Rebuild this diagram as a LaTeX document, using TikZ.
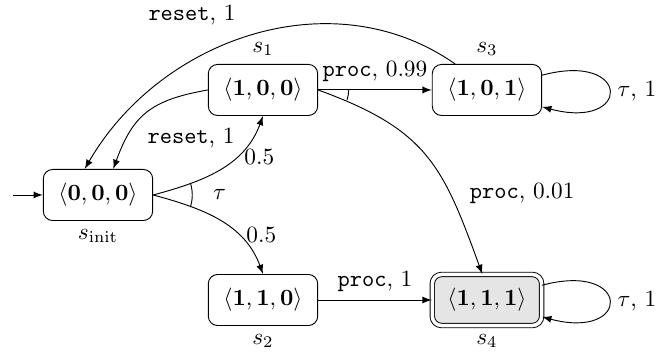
\documentclass[tikz,border=0pt]{standalone}
\usepackage{amsmath}
\usetikzlibrary{
arrows,
positioning
}
\tikzset{>=latex}
\tikzset{
loc/.style={draw, rounded corners=4pt, minimum width=1.65cm, minimum height=0.77cm, inner sep=2pt},
goal/.style={loc, double, double distance=1.5pt, fill=gray!20}
}

\begin{document}
\begin{tikzpicture}[node distance=1.584cm and 2.489cm, on grid]
		\useasboundingbox (-1.478,-2.368) rectangle (8.477,2.941);
		\node[loc, label=below:$s_{\mathrm{init}}$] (init) {$\langle\mathbf{0,0,0}\rangle$};
		\node[loc, above right=of init, label=above:$s_1$] (s1) {$\langle\mathbf{1,0,0}\rangle$};
		\node[loc, below right=of init, label=below:$s_2$] (s2) {$\langle\mathbf{1,1,0}\rangle$};
		\node[loc, right=3.378cm of s1, label=above:$s_3$] (s3) {$\langle\mathbf{1,0,1}\rangle$};
		\node[goal, right=3.378cm of s2, label=below:$s_4$] (s4) {$\langle\mathbf{1,1,1}\rangle$};
		\coordinate[left=0.45cm of init.west] (start);
		\node[right=0.78cm of init.east] (tau) {$\tau$};
		
		\draw[->] (start) -- (init);
		
		% branching on tau
		\draw[->] (init.east) to[out=15, in=-110] node[pos=0.65, right] {$0.5$} (s1.south);
		\draw[->] (init.east) to[out=-15, in=110] node[pos=0.67, right] {$0.5$} (s2.north);
		\draw (init.east) ++(-18:0.59) arc[start angle=-18, end angle=18, radius=0.59];
		
		\draw[->] (s1.west) to[out=190, in=70, looseness=1.2] node[pos=0.45, below right=4.7pt and -5pt] {\texttt{reset}, $1$} ([xshift=0.23cm]init.north);
		\draw[->] ([xshift=-0.48cm]s3.north) to[out=145, in=60] node[midway, above left=1pt and 3.5pt] {\texttt{reset}, $1$} ([xshift=-0.2cm]init.north);
		
		% branching on proc
		\draw[->] (s1.east) -- node[above] {\texttt{proc}, $0.99$} (s3.west);
		\draw[->] (s1.east) to[out=-20, in=110, looseness=1.2] node[pos=0.7, right=5pt] {\texttt{proc}, $0.01$} ([xshift=-2pt]s4.north);
		\draw (s1.east) ++(-19:0.46) arc[start angle=-19, end angle=0, radius=0.46];
		
		\draw[->] (s2.east) -- node[above] {\texttt{proc}, $1$} (s4.west);
		
		\draw[->] (s3.15) to[out=15, in=-15, distance=1.4cm] node[right] {$\tau$, $1$} (s3.-17);
		\draw[->] (s4.15) to[out=15, in=-15, distance=1.4cm] node[right] {$\tau$, $1$} (s4.-17);
	\end{tikzpicture}
\end{document}
